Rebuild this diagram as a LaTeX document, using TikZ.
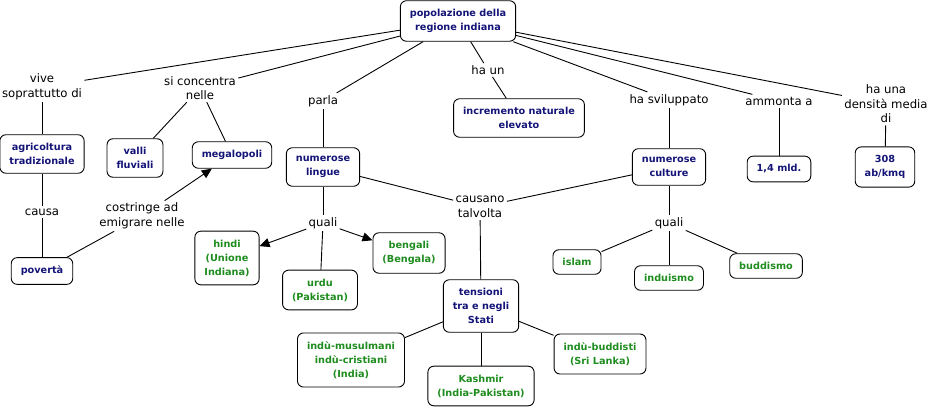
\documentclass[tikz,border=0pt]{standalone}
\usepackage{fontspec}
\setmainfont{DejaVu Sans}
\usetikzlibrary{arrows.meta}
\definecolor{conceptblue}{RGB}{20,20,120}
\definecolor{examplegreen}{RGB}{30,140,30}
\newcommand{\conceptfont}{\fontsize{9.7}{14}\selectfont\bfseries}
\newcommand{\linkfont}{\fontsize{11.7}{14.5}\selectfont}
\tikzset{
    concept/.style={draw, rounded corners=6pt, align=center, font=\conceptfont,
      text=conceptblue, inner xsep=9.5pt, inner ysep=8.5pt},
    example/.style={concept, text=examplegreen},
    linkword/.style={align=center, font=\linkfont, inner sep=2pt},
    arrowlink/.style={-{Triangle[length=10pt,width=9pt]}}
}

\begin{document}
\begin{tikzpicture}[x=1pt, y=-1pt, line width=0.9pt]
          \useasboundingbox (0,0) rectangle (931,409);
          % concepts
          \node [concept] (pop) at (458,21) {popolazione della\\regione indiana};
          \node [concept] (agri) at (42,154) {agricoltura\\tradizionale};
          \node [concept] (valli) at (135,158) {valli\\fluviali};
          \node [concept] (mega) at (232,155) {megalopoli};
          \node [concept] (lingue) at (323,167) {numerose\\lingue};
          \node [concept] (incr) at (519,118) {incremento naturale\\elevato};
          \node [concept] (culture) at (669,167) {numerose\\culture};
          \node [concept] (mld) at (779,169) {1,4 mld.};
          \node [concept] (dens) at (885,167) {308\\ab/kmq};
          \node [concept] (poverta) at (42,271) {povertà};
          \node [concept] (tens) at (481,306) {tensioni\\tra e negli\\Stati};
          % examples
          \node [example] (hindi) at (227,258) {hindi\\(Unione\\Indiana)};
          \node [example] (urdu) at (320,290) {urdu\\(Pakistan)};
          \node [example] (bengali) at (409,253) {bengali\\(Bengala)};
          \node [example] (musul) at (351,360) {indù-musulmani\\indù-cristiani\\(India)};
          \node [example] (kash) at (481,386) {Kashmir\\(India-Pakistan)};
          \node [example] (budd) at (600,354) {indù-buddisti\\(Sri Lanka)};
          \node [example] (islam) at (577,262) {islam};
          \node [example] (indu) at (669,278) {induismo};
          \node [example] (buddismo) at (766,266) {buddismo};
          % linking words
          \node [linkword] (vive) at (42,87) {vive\\soprattutto di};
          \node [linkword] (conc) at (200,88) {si concentra\\nelle};
          \node [linkword] (parla) at (323,101) {parla};
          \node [linkword] (haun) at (488,70) {ha un};
          \node [linkword] (svil) at (669,100) {ha sviluppato};
          \node [linkword] (ammonta) at (779,101) {ammonta a};
          \node [linkword] (media) at (886,104) {ha una\\densità media\\di};
          \node [linkword] (causa) at (42,212) {causa};
          \node [linkword] (costr) at (142,216) {costringe ad\\emigrare nelle};
          \node [linkword] (quali1) at (323,223) {quali};
          \node [linkword] (causano) at (480,207) {causano\\talvolta};
          \node [linkword] (quali2) at (669,223) {quali};
          % connections
          \draw (pop) -- (vive);
          \draw (pop) -- (conc);
          \draw (pop) -- (parla);
          \draw (pop) -- (haun);
          \draw (pop) -- (svil);
          \draw (pop) -- (ammonta);
          \draw (pop) -- (media);
          \draw (vive) -- (agri);
          \draw (agri) -- (causa);
          \draw (causa) -- (poverta);
          \draw (poverta) -- (costr);
          \draw [arrowlink] (costr) -- (mega);
          \draw (conc) -- (valli);
          \draw (conc) -- (mega);
          \draw (parla) -- (lingue);
          \draw (lingue) -- (quali1);
          \draw [arrowlink] (quali1) -- (hindi);
          \draw (quali1) -- (urdu);
          \draw [arrowlink] (quali1) -- (bengali);
          \draw (lingue) -- (causano);
          \draw (culture) -- (causano);
          \draw (causano) -- (tens);
          \draw (tens) -- (musul);
          \draw (tens) -- (kash);
          \draw (tens) -- (budd);
          \draw (haun) -- (incr);
          \draw (svil) -- (culture);
          \draw (culture) -- (quali2);
          \draw (quali2) -- (islam);
          \draw (quali2) -- (indu);
          \draw (quali2) -- (buddismo);
          \draw (ammonta) -- (mld);
          \draw (media) -- (dens);
        \end{tikzpicture}
\end{document}
